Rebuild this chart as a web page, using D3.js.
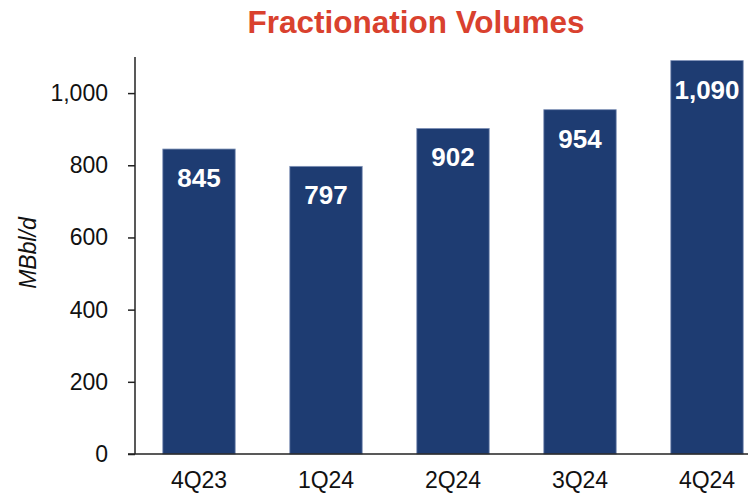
<!DOCTYPE html>
<html>
<head>
<meta charset="utf-8">
<script src="https://cdn.jsdelivr.net/npm/d3@7"></script>
<style>
  body { margin: 0; background: #fff; }
  svg { display: block; font-family: Arial, "Liberation Sans", sans-serif; }
</style>
</head>
<body>
<div id="chart"></div>
<script>
const quarters = ['4Q23', '1Q24', '2Q24', '3Q24', '4Q24'];
const volumes = [845, 797, 902, 954, 1090];
const yTicks = [0, 200, 400, 600, 800, 1000];

const width = 748;
const height = 493;

const svg = d3.select('#chart')
    .append('svg')
    .attr('width', width)
    .attr('height', height);

const xScale = d3.scaleBand()
    .domain(quarters)
    .range([135.5, 770.5])
    .paddingInner(0.43)
    .paddingOuter(0.215);

const yScale = d3.scaleLinear()
    .domain([0, 1100])
    .range([454, 57]);

// title
svg.append('text')
    .attr('x', 416)
    .attr('y', 33)
    .attr('text-anchor', 'middle')
    .attr('font-size', 31.5)
    .attr('font-weight', 'bold')
    .attr('fill', '#d9412e')
    .text('Fractionation Volumes');

// bars
svg.append('g')
    .selectAll('rect')
    .data(volumes)
    .join('rect')
    .attr('x', (d, i) => xScale(quarters[i]))
    .attr('y', (d) => yScale(d))
    .attr('width', xScale.bandwidth())
    .attr('height', (d) => yScale(0) - yScale(d))
    .attr('fill', '#1e3c72')
    .attr('stroke', '#7d90b6')
    .attr('stroke-width', 0.8);

// value labels
svg.append('g')
    .selectAll('text')
    .data(volumes)
    .join('text')
    .attr('x', (d, i) => xScale(quarters[i]) + xScale.bandwidth() / 2)
    .attr('y', (d) => yScale(d) + 38)
    .attr('text-anchor', 'middle')
    .attr('font-size', 26)
    .attr('font-weight', 'bold')
    .attr('fill', '#fff')
    .text((d) => d3.format(',')(d));

// y axis
const yAxis = svg.append('g')
    .attr('transform', 'translate(135,0)')
    .call(d3.axisLeft(yScale)
        .tickValues(yTicks)
        .tickSize(7)
        .tickPadding(20)
        .tickFormat(d3.format(',')));

yAxis.select('.domain')
    .attr('d', `M0,${yScale(1100)}V${yScale(0)}`)
    .attr('stroke', '#222')
    .attr('stroke-width', 1.5);
yAxis.selectAll('.tick line').attr('stroke', '#222').attr('stroke-width', 1.5);
yAxis.selectAll('.tick text')
    .attr('font-size', 23)
    .attr('font-family', 'Arial, "Liberation Sans", sans-serif')
    .attr('fill', '#111');

// x axis
const xAxis = svg.append('g')
    .attr('transform', `translate(0,${yScale(0)})`)
    .call(d3.axisBottom(xScale).tickSize(0).tickPadding(18));

xAxis.select('.domain')
    .attr('d', `M128,0H${width}`)
    .attr('stroke', '#222')
    .attr('stroke-width', 1.5);
xAxis.selectAll('.tick text')
    .attr('font-size', 23)
    .attr('font-family', 'Arial, "Liberation Sans", sans-serif')
    .attr('fill', '#111');

// y axis label
svg.append('text')
    .attr('transform', 'translate(36,253) rotate(-90)')
    .attr('text-anchor', 'middle')
    .attr('font-size', 23)
    .attr('font-style', 'italic')
    .attr('fill', '#111')
    .text('MBbl/d');
</script>
</body>
</html>
